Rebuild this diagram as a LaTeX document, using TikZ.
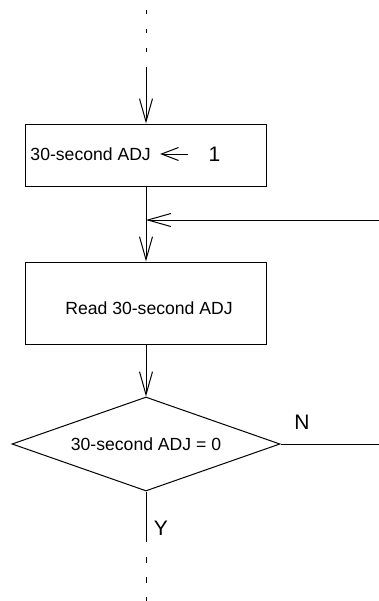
\documentclass[tikz,border=0pt]{standalone}
\usepackage{fontspec}
\setmainfont{Liberation Sans}
\usetikzlibrary{shapes.geometric,arrows.meta}
\tikzset{
  flow/.style={draw=black,-{Straight Barb[length=11.5pt,width=6.5pt]}},
  assign/.style={draw=black,-{Straight Barb[length=8.5pt,width=6.5pt]}},
  stepbox/.style={draw,minimum width=120.5pt,inner sep=0pt},
  test/.style={draw,diamond,aspect=2.85,minimum width=134pt,minimum height=47pt,inner sep=0pt},
  big/.style={font=\fontsize{10.5}{12}\selectfont}
}
\tikzstyle{every node}=[font=\fontsize{8.8}{10}\selectfont]

\begin{document}
\begin{tikzpicture}[x=0.5pt,y=-0.5pt,line width=0.5pt]
    \useasboundingbox (0,0) rectangle (379,601);
    \coordinate (start) at (146,10);
    \coordinate (open) at (146,67);
    \node[stepbox,minimum height=31pt] (set) at (146,155) {};
    \node[anchor=west,inner sep=0pt] (adj) at (30,154) {30-second ADJ};
    \node[anchor=west,inner sep=0pt,big] (one) at (208,154) {1};
    \coordinate (join) at (146,220);
    \coordinate (back) at (379,220);
    \node[stepbox,minimum height=41pt] (read) at (146,303) {};
    \node[xshift=1.5pt,yshift=-2.5pt] (readtext) at (read) {Read 30-second ADJ};
    \node[test] (zero) at (146,444) {30-second ADJ = 0};
    \coordinate (no) at (379,444);
    \node[big] (n) at (302,422) {N};
    \coordinate (yes) at (146,542);
    \node[big] (y) at (161,528) {Y};
    \coordinate (more) at (146,557);
    \coordinate (stop) at (146,601);
    \draw [dash pattern=on 2pt off 7.5pt] (start) -- (open);
    \draw [flow] (open) -- (set);
    \draw [assign,shorten <=10pt,shorten >=4.4pt] (one.west) -- (adj.east);
    \draw (set.south) -- (join);
    \draw [flow] (back) -- (join);
    \draw [flow] (join) -- (read.north);
    \draw [flow] (read) -- (zero);
    \draw (zero.east) -- (no);
    \draw (zero.south) -- (yes);
    \draw [dash pattern=on 3pt off 7pt] (more) -- (stop);
\end{tikzpicture}
\end{document}
